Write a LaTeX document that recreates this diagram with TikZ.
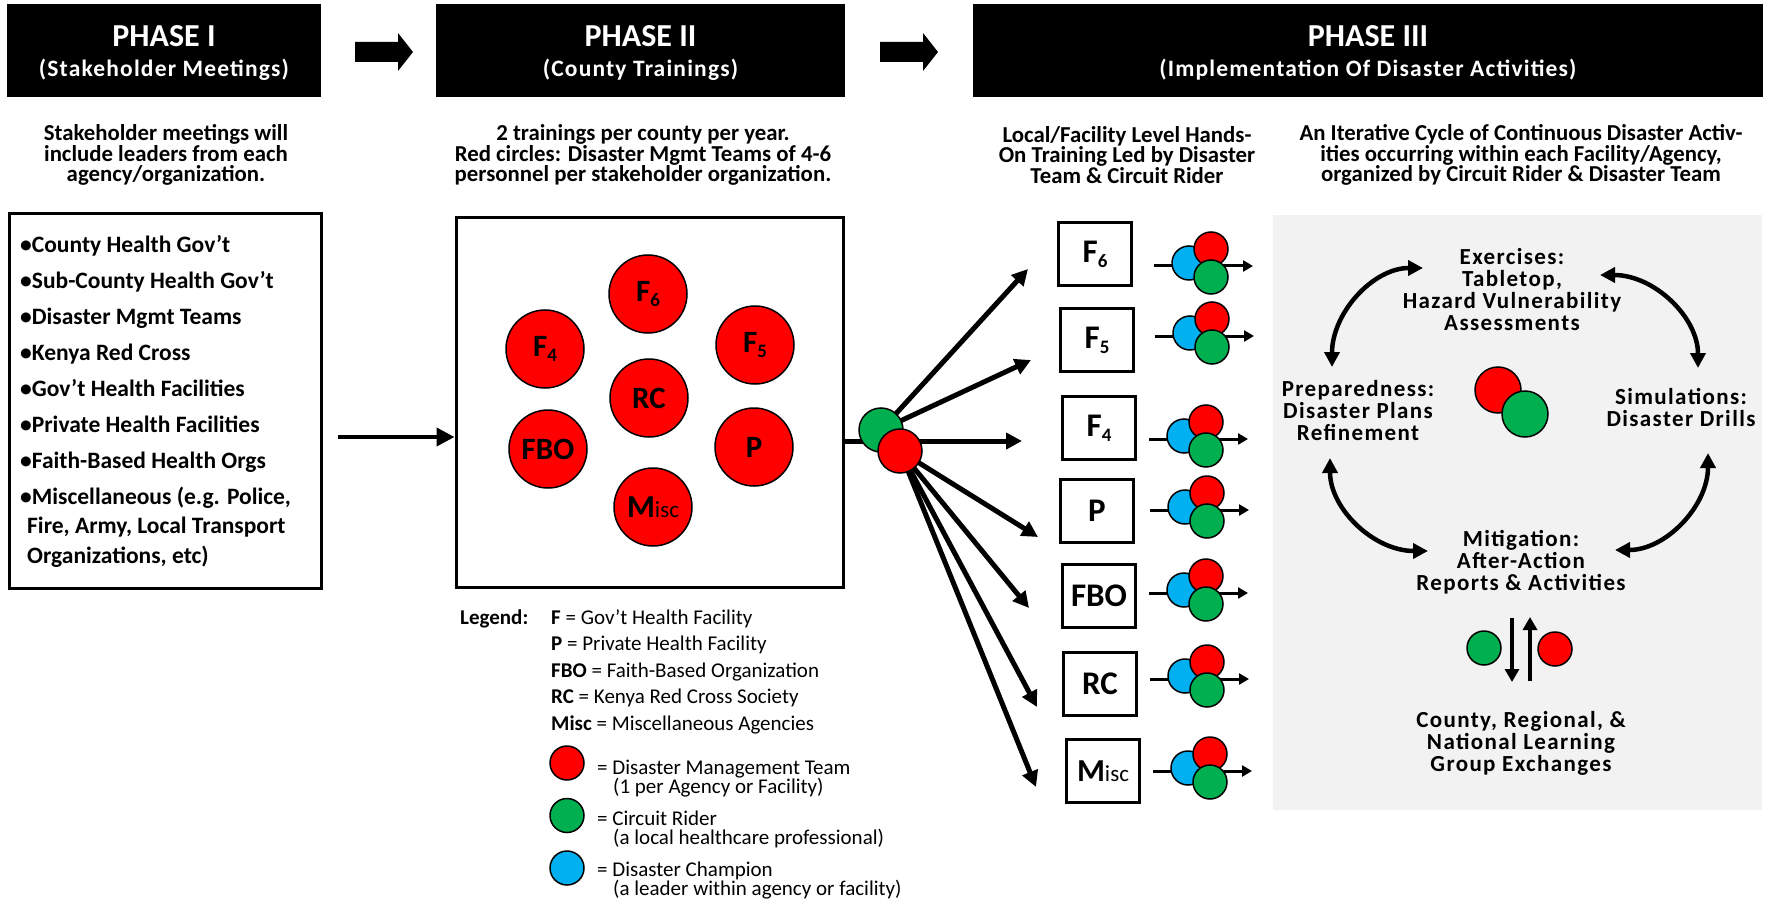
\documentclass[tikz,border=0pt]{standalone}
\usepackage{fontspec}
\setmainfont{Carlito}
\newfontfamily\spacedfont[LetterSpace=6]{Carlito}
\newfontfamily\wideheadfont[LetterSpace=5]{Carlito}
\usetikzlibrary{arrows.meta}
\usetikzlibrary{backgrounds}
\definecolor{teamred}{RGB}{255,0,0}
\definecolor{ridergreen}{RGB}{0,176,80}
\definecolor{champblue}{RGB}{0,176,240}
\definecolor{panelgray}{RGB}{242,242,242}
\newcommand\fsub[1]{\raisebox{-5pt}{\fontsize{19}{19}\selectfont #1}}
\newcommand\miscl{{\fontsize{32}{32}\selectfont\bfseries M}{\fontsize{23}{23}\selectfont\mdseries isc}}

\begin{document}
\begin{tikzpicture}[x=1pt, y=-1pt,
    phasebox/.style={fill=black, inner sep=0pt, minimum height=93},
    phasetitle/.style={anchor=base, inner sep=0pt, text=white, font=\fontsize{32}{32}\selectfont\bfseries},
    phasesub/.style={anchor=base, inner sep=0pt, text=white, font=\wideheadfont\fontsize{23.5}{23.5}\selectfont\bfseries},
    desc/.style={align=center, inner sep=0pt, font=\fontsize{22.8}{20.5}\selectfont\bfseries},
    listline/.style={anchor=base west, inner sep=0pt, font=\fontsize{23.5}{23.5}\selectfont\bfseries},
    legtext/.style={anchor=base west, inner sep=0pt, font=\fontsize{21}{21}\selectfont},
    team/.style={circle, draw, line width=1.5, fill=teamred, inner sep=0pt, minimum size=78, font=\fontsize{31}{31}\selectfont\bfseries},
    disc/.style={circle, draw, line width=1.5, inner sep=0pt, minimum size=#1},
    disc/.default=34,
    facility/.style={draw, line width=3, minimum width=73, minimum height=63, inner sep=0pt, font=\fontsize{33}{33}\selectfont\bfseries},
    stage/.style={align=center, inner sep=0pt, font=\spacedfont\fontsize{23}{22}\selectfont\bfseries},
    fan/.style={line width=5, -{Triangle[length=16pt,width=16pt]}},
    smallarrow/.style={line width=3, -{Triangle[length=10pt,width=11pt]}},
    cyclearrow/.style={line width=4.5, {Triangle[length=15pt,width=15pt]}-{Triangle[length=15pt,width=15pt]}},
    swaparrow/.style={line width=4, -{Triangle[length=13pt,width=14pt]}},
  ]
  \useasboundingbox (0,0) rectangle (1769,901);
  %
  % phase headers
  \node[phasebox, minimum width=314] (ph1) at (164,50.5) {};
  \node[phasebox, minimum width=409] (ph2) at (640.5,50.5) {};
  \node[phasebox, minimum width=790] (ph3) at (1368,50.5) {};
  \node[phasetitle] (ph1t) at (164,47) {PHASE I};
  \node[phasesub] (ph1s) at (164,77) {(Stakeholder Meetings)};
  \node[phasetitle] (ph2t) at (640.5,47) {PHASE II};
  \node[phasesub] (ph2s) at (640.5,77) {(County Trainings)};
  \node[phasetitle] (ph3t) at (1368,47) {PHASE III};
  \node[phasesub] (ph3s) at (1368,77) {(Implementation Of Disaster Activities)};
  \foreach \ax in {355,880}
    \fill (\ax,42) -- ++(43,0) -- ++(0,-9) -- ++(15,19) -- ++(-15,19) -- ++(0,-9) -- ++(-43,0) -- cycle;
  %
  % column headings
  \node[desc] (d1) at (166,155) {Stakeholder meetings will\\include leaders from each\\agency/organization.};
  \node[desc] (d2) at (643,155) {2 trainings per county per year.\\Red circles: Disaster Mgmt Teams of 4-6\\personnel per stakeholder organization.};
  \node[desc] (d3) at (1127,155) {Local/Facility Level Hands-\\On Training Led by Disaster\\Team \& Circuit Rider};
  \node[desc] (d4) at (1521,155) {An Iterative Cycle of Continuous Disaster Activ-\\ities occurring within each Facility/Agency,\\organized by Circuit Rider \& Disaster Team};
  %
  % phase I list
  \node[draw, line width=3, minimum width=312, minimum height=374] (stakebox) at (165,401) {};
  \foreach \txt [count=\i] in {County Health Gov’t, Sub-County Health Gov’t, Disaster Mgmt Teams, Kenya Red Cross, Gov’t Health Facilities, Private Health Facilities, Faith-Based Health Orgs, {Miscellaneous (e.g. Police,}}
    \node[listline] (stk\i) at (20,{253+35.9*(\i-1)}) {\textbullet\txt};
  \node[listline] (stk9) at (27,533) {Fire, Army, Local Transport};
  \node[listline] (stk10) at (27,563) {Organizations, etc)};
  \coordinate (lstart) at (338,437);
  %
  % phase II trainings
  \node[draw, line width=3, minimum width=387, minimum height=369] (trainbox) at (649.5,402.5) {};
  \draw[line width=4, -{Triangle[length=18pt,width=18pt]}] (lstart) -- (lstart -| trainbox.west);
  \node[team] (cf6) at (648,294) {F\fsub{6}};
  \node[team] (cf4) at (545,349) {F\fsub{4}};
  \node[team] (cf5) at (755,345) {F\fsub{5}};
  \node[team] (crc) at (649,398) {RC};
  \node[team] (cfbo) at (548,449) {FBO};
  \node[team] (cp) at (754,447) {P};
  \node[team] (cmisc) at (653,507) {\miscl};
  %
  % legend
  \node[legtext, font=\fontsize{21}{21}\selectfont\bfseries] (leghead) at (460,624) {Legend:};
  \foreach \ab/\txt [count=\i] in {F/Gov’t Health Facility, P/Private Health Facility, FBO/Faith-Based Organization, RC/Kenya Red Cross Society, Misc/Miscellaneous Agencies}
    \node[legtext] (leg\i) at (551,{624+26.6*(\i-1)}) {\textbf{\ab} = \txt};
  \foreach \col/\a/\b [count=\i] in {teamred/Disaster Management Team/(1 per Agency or Facility), ridergreen/Circuit Rider/(a local healthcare professional), champblue/Disaster Champion/(a leader within agency or facility)}
  {
    \node[disc, fill=\col] (legdisc\i) at (567,{763+52.5*(\i-1)}) {};
    \node[legtext] (legname\i) at (597,{774+51*(\i-1)}) {= \a};
    \node[legtext] (legnote\i) at (613,{793+51*(\i-1)}) {\b};
  }
  %
  % hub and fan out to facilities
  \node[disc=44, fill=ridergreen] (hubg) at (881,430) {};
  \node[disc=44, fill=teamred] (hubr) at (900,451) {};
  \coordinate (tf4) at (1022,441);
  \begin{scope}[on background layer]
    \draw[fan] (trainbox.east |- tf4) -- (tf4);
    \foreach \nm/\tx/\ty/\from in {f6/1028/269/hubg, f5/1031/360/hubg, p/1038/537/hubr, fbo/1029/608/hubr, rc/1037/707/hubr, misc/1036/787/hubr}
    {
      \coordinate (t\nm) at (\tx,\ty);
      \draw[fan] (\from.center) -- (t\nm);
    }
  \end{scope}
  \foreach \nm/\bx/\by/\lbl in {f6/1095/254/F\fsub{6}, f5/1097/340/F\fsub{5}, f4/1099/428/F\fsub{4}, p/1097/511/P, fbo/1099/596/FBO, rc/1100/684/RC, misc/1103/771/\miscl}
    \node[facility] (b\nm) at (\bx,\by) {\lbl};
  \foreach \nm/\cx/\cy in {f6/1211/263, f5/1212/333, f4/1206/436, p/1207/507, fbo/1206/590, rc/1207/676, misc/1210/768}
  {
    \draw[smallarrow] ({\cx-57},{\cy+3}) -- ({\cx+42},{\cy+3});
    \node[disc, fill=champblue] (\nm-champ) at ({\cx-22},\cy) {};
    \node[disc, fill=teamred] (\nm-team) at (\cx,{\cy-14}) {};
    \node[disc, fill=ridergreen] (\nm-rider) at (\cx,{\cy+14}) {};
  }
  %
  % phase III cycle
  \fill[panelgray] (1273,215) rectangle (1762,810);
  \node[stage] (exer) at (1512,290) {Exercises:\\Tabletop,\\Hazard Vulnerability\\Assessments};
  \node[stage] (prep) at (1358,411) {Preparedness:\\Disaster Plans\\Refinement};
  \node[stage] (simu) at (1681,407) {Simulations:\\Disaster Drills};
  \node[stage] (miti) at (1521,562) {Mitigation:\\After-Action\\Reports \& Activities};
  \node[stage] (learn) at (1521,743) {County, Regional, \&\\National Learning\\Group Exchanges};
  \node[disc=46, fill=teamred] (cteam) at (1498,390) {};
  \node[disc=46, fill=ridergreen] (crider) at (1525,414) {};
  \coordinate (a1s) at (1332,367); \coordinate (a1e) at (1423,268);
  \coordinate (a2s) at (1600,275); \coordinate (a2e) at (1698,368);
  \coordinate (a3s) at (1330,458); \coordinate (a3e) at (1428,551);
  \coordinate (a4s) at (1708,453); \coordinate (a4e) at (1615,550);
  \draw[cyclearrow] (a1s) .. controls (1332,313) and (1373,268) .. (a1e);
  \draw[cyclearrow] (a2s) .. controls (1654,275) and (1698,317) .. (a2e);
  \draw[cyclearrow] (a3s) .. controls (1330,509) and (1374,551) .. (a3e);
  \draw[cyclearrow] (a4s) .. controls (1708,506) and (1666,550) .. (a4e);
  \node[disc, fill=ridergreen] (xrider) at (1484,648) {};
  \node[disc, fill=teamred] (xteam) at (1555,649) {};
  \coordinate (xdown) at (1512,618); \coordinate (xup) at (1530,681);
  \draw[swaparrow] (xdown) -- ++(0,64);
  \draw[swaparrow] (xup) -- ++(0,-64);
\end{tikzpicture}
\end{document}
